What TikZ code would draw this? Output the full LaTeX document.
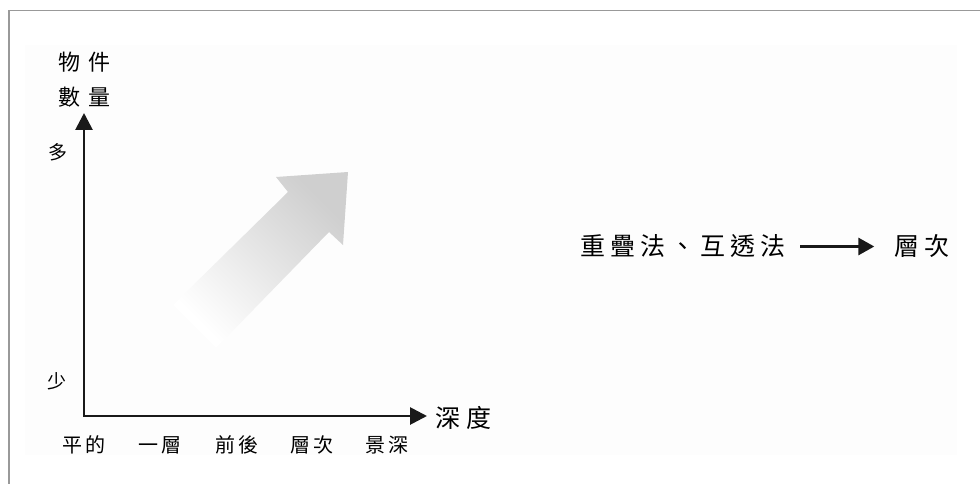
\documentclass[tikz,border=0pt]{standalone}
\usepackage{fontspec}
\setmainfont{Noto Sans CJK TC}
\usetikzlibrary{arrows.meta}
\begin{document}
\begin{tikzpicture}[x=1pt,y=-1pt,
  lbl/.style={inner sep=0pt, text=black},
  big/.style={lbl, font=\fontsize{22}{22}\selectfont},
  ax/.style={lbl, font=\fontsize{19}{19}\selectfont},
  tick/.style={lbl, font=\fontsize{20}{20}\selectfont},
  rtxt/.style={lbl, font=\fontsize{25}{25}\selectfont},
  axisline/.style={line width=2.8pt, black!90, {Triangle[length=17pt,width=17pt]}-{Triangle[length=17pt,width=17pt]}},
  flowarrow/.style={line width=3pt, black!90, -{Triangle[length=16pt,width=17pt]}}]
\useasboundingbox (0,0) rectangle (980,484);
\fill[white] (0,0) rectangle (980,484);
\fill[black!0.8] (25,45) rectangle (957,455);
\draw[black!40, line width=1.5pt] (9,484) coordinate (bl) -- (9,10.5) coordinate (tl) -- (980,10.5) coordinate (tr);
% gradient arrow
\shade[top color=black!19, middle color=black!9, bottom color=white, shading angle=-45]
  (348,172) -- (276,177) -- (288,192) -- (173,305) -- (216,348) -- (329,232) -- (343,245) -- cycle;
% axes
\coordinate (ytip) at (84,113);
\coordinate (o) at (84,416);
\coordinate (xtip) at (427,416);
\draw[axisline] (ytip) -- (o) -- (xtip);
% axis labels
\node[big] (wj) at (84.5,62) {物\hspace{9pt}件};
\node[big] (sl) at (84.5,97) {數\hspace{9pt}量};
\node[ax] (duo) at (58,152) {多};
\node[ax] (shao) at (57,381) {少};
\node[rtxt] (sd) at (463,418) {深\hspace{6pt}度};
\node[tick] (t1) at (84,445) {平\hspace{3pt}的};
\node[tick] (t2) at (160,445) {一\hspace{3pt}層};
\node[tick] (t3) at (237,445) {前\hspace{3pt}後};
\node[tick] (t4) at (312,445) {層\hspace{3pt}次};
\node[tick] (t5) at (387,445) {景\hspace{3pt}深};
% right statement
\node[rtxt] (lt) at (682.5,246.5) {重\hspace{5pt}疊\hspace{5pt}法\hspace{5pt}、\hspace{5pt}互\hspace{5pt}透\hspace{5pt}法};
\node[rtxt] (rt) at (922,246.5) {層\hspace{5pt}次};
\draw[flowarrow, shorten <=15pt, shorten >=20pt] (lt.east) -- (lt.east -| rt.west);
\end{tikzpicture}
\end{document}
